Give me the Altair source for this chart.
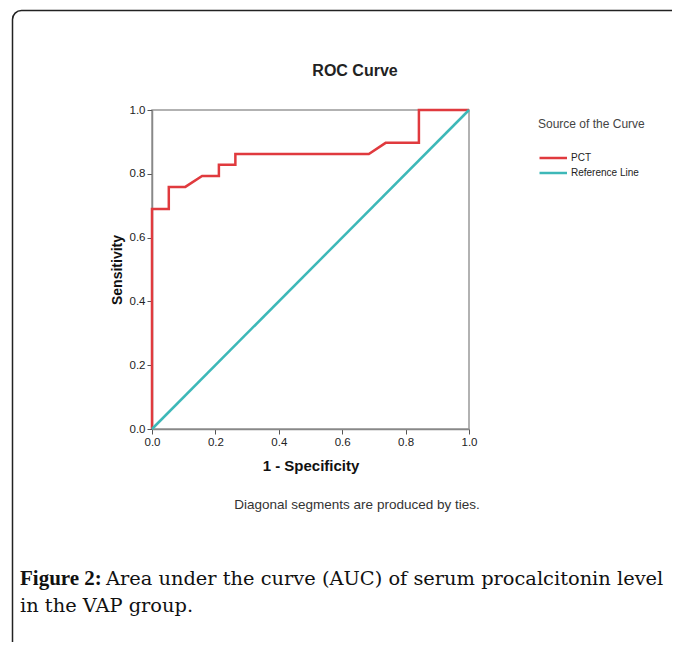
import altair as alt
import pandas as pd

# ROC curve points (1 - specificity, sensitivity)
pct_fpr = [0.0, 0.0, 0.053, 0.053, 0.105, 0.158, 0.211, 0.211, 0.263, 0.263, 0.684, 0.737, 0.842, 0.842, 1.0]
pct_tpr = [0.0, 0.690, 0.690, 0.759, 0.759, 0.793, 0.793, 0.828, 0.828, 0.862, 0.862, 0.897, 0.897, 1.0, 1.0]
ref_fpr = [0.0, 1.0]
ref_tpr = [0.0, 1.0]
series_names = ["PCT", "Reference Line"]
series_colors = ["#E03A3E", "#3DB8B8"]
tick_values = [0.0, 0.2, 0.4, 0.6, 0.8, 1.0]

chart_title = "ROC Curve"
x_title = "1 - Specificity"
y_title = "Sensitivity"
legend_title = "Source of the Curve"
note_text = "Diagonal segments are produced by ties."
caption_bold = "Figure 2:"
caption_line1 = "Area under the curve (AUC) of serum procalcitonin level"
caption_line2 = "in the VAP group."

W, H = 317, 319
PL, PT = 144, 102  # plot origin in the svg (page margin 8 -> 152,110)
TOTW, TOTH = 664, 634

rows = []
for i, (a, b) in enumerate(zip(pct_fpr, pct_tpr)):
    rows.append({"fpr": a, "tpr": b, "series": series_names[0], "o": i})
for i, (a, b) in enumerate(zip(ref_fpr, ref_tpr)):
    rows.append({"fpr": a, "tpr": b, "series": series_names[1], "o": i})
df = pd.DataFrame(rows)

font = "Liberation Sans"

axis_common = dict(values=tick_values, format=".1f", grid=False, tickSize=5,
                   domainColor="#888", tickColor="#555", domainWidth=1.5,
                   labelFontSize=11.5, labelFont=font, labelColor="#222", labelPadding=2,
                   titleFont=font, titleFontWeight="bold",
                   titleColor="#111", labelFlush=False)

lines = alt.Chart(df).mark_line(strokeWidth=2.5, clip=False).encode(
    x=alt.X("fpr:Q", scale=alt.Scale(domain=[0, 1], nice=False),
            axis=alt.Axis(title=x_title, titlePadding=11, titleFontSize=15, **axis_common)),
    y=alt.Y("tpr:Q", scale=alt.Scale(domain=[0, 1], nice=False),
            axis=alt.Axis(title=y_title, titlePadding=5, titleFontSize=14, **axis_common)),
    color=alt.Color("series:N", scale=alt.Scale(domain=series_names, range=series_colors),
                    legend=alt.Legend(title=legend_title, orient="none", legendX=386, legendY=9,
                                      symbolType="M-1,0H4", symbolStrokeWidth=2.5, symbolSize=121,
                                      titleFont=font, titleFontSize=12, titleFontWeight="normal",
                                      titleColor="#444", titlePadding=20, labelFont=font,
                                      labelFontSize=10, labelColor="#222", rowPadding=3,
                                      labelOffset=19, padding=0)),
    order="o:Q",
)

title_df = pd.DataFrame({"t": [chart_title]})
title_mark = alt.Chart(title_df).mark_text(font=font, fontSize=16, fontWeight="bold",
                                           color="#222", align="center", baseline="middle").encode(
    x=alt.value(355 - 152), y=alt.value(71 - 110), text="t:N")

note_df = pd.DataFrame({"t": [note_text]})
note_mark = alt.Chart(note_df).mark_text(font=font, fontSize=13.5, color="#333",
                                         align="center", baseline="middle").encode(
    x=alt.value(357 - 152), y=alt.value(505 - 110), text="t:N")

cap_b = alt.Chart(pd.DataFrame({"t": [caption_bold]})).mark_text(
    font="Liberation Serif", fontSize=21, fontWeight="bold", color="#111", align="left",
    baseline="alphabetic").encode(
    x=alt.value(20 - 152), y=alt.value(585 - 110), text="t:N")
cap_1 = alt.Chart(pd.DataFrame({"t": [caption_line1]})).mark_text(
    font="DejaVu Serif", fontSize=19.4, color="#111", align="left", baseline="alphabetic").encode(
    x=alt.value(106 - 152), y=alt.value(585 - 110), text="t:N")
cap_2 = alt.Chart(pd.DataFrame({"t": [caption_line2]})).mark_text(
    font="DejaVu Serif", fontSize=19.4, color="#111", align="left", baseline="alphabetic").encode(
    x=alt.value(20 - 152), y=alt.value(612 - 110), text="t:N")

frame = alt.Chart(pd.DataFrame({"k": [1]})).mark_rect(
    fill=None, stroke="#222", strokeWidth=1.5, cornerRadius=9, clip=False).encode(
    x=alt.value(12.5 - 152), y=alt.value(10.5 - 110), x2=alt.value(720 - 152), y2=alt.value(720 - 110))

chart = alt.layer(frame, lines, title_mark, note_mark, cap_b, cap_1, cap_2).properties(
    width=W, height=H,
    autosize=alt.AutoSizeParams(type="none"),
    padding={"left": PL, "top": PT, "right": TOTW - PL - W, "bottom": TOTH - PT - H},
).configure_view(stroke="#999", strokeWidth=1.5)

chart.save("out.html", embed_options={"renderer": "svg", "actions": False})
